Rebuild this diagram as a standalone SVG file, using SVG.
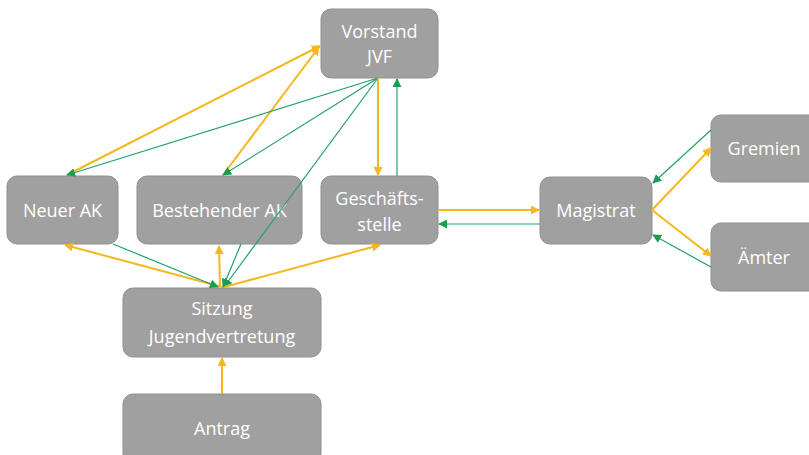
<svg xmlns="http://www.w3.org/2000/svg" width="809" height="455" viewBox="0 0 809 455">
<style>
.box{fill:#a0a0a0;stroke:#909090;stroke-width:1}
.lbl{font-family:"Open Sans","Noto Sans",sans-serif;font-size:18px;fill:#ffffff;text-anchor:middle}
.y{stroke:#f4b71e;stroke-width:2;fill:none}
.g{stroke:#22a06a;stroke-width:1.2;fill:none}
</style>
<defs>
<marker id="ay" viewBox="0 0 10 10" refX="9" refY="5" markerWidth="9" markerHeight="9" markerUnits="userSpaceOnUse" orient="auto"><path d="M0,0 L10,5 L0,10 z" fill="#f4b71e"/></marker>
<marker id="ag" viewBox="0 0 10 10" refX="9" refY="5" markerWidth="9" markerHeight="9" markerUnits="userSpaceOnUse" orient="auto"><path d="M0,0 L10,5 L0,10 z" fill="#14a050"/></marker>
</defs>
<rect width="809" height="455" fill="#ffffff"/>
<g id="vorstand"><rect class="box" x="321" y="9" width="117" height="69" rx="10"/><text class="lbl" x="379.5" y="38">Vorstand</text><text class="lbl" x="379.5" y="63">JVF</text></g>
<g id="neuer-ak"><rect class="box" x="7" y="176" width="111" height="68" rx="10"/><text class="lbl" x="62.5" y="217">Neuer AK</text></g>
<g id="bestehender-ak"><rect class="box" x="137" y="176" width="165" height="68" rx="10"/><text class="lbl" x="219.5" y="217">Bestehender AK</text></g>
<g id="geschaeftsstelle"><rect class="box" x="321" y="176" width="117" height="68" rx="10"/><text class="lbl" x="379.5" y="205">Geschäfts-</text><text class="lbl" x="379.5" y="231">stelle</text></g>
<g id="magistrat"><rect class="box" x="540" y="177" width="112" height="67" rx="10"/><text class="lbl" x="596" y="217">Magistrat</text></g>
<g id="gremien"><rect class="box" x="711" y="115" width="110" height="67" rx="10"/><text class="lbl" x="764" y="155">Gremien</text></g>
<g id="aemter"><rect class="box" x="711" y="223" width="110" height="68" rx="10"/><text class="lbl" x="764" y="264">Ämter</text></g>
<g id="sitzung"><rect class="box" x="123" y="288" width="198" height="69" rx="10"/><text class="lbl" x="222" y="315">Sitzung</text><text class="lbl" x="222" y="343">Jugendvertretung</text></g>
<g id="antrag"><rect class="box" x="123" y="394" width="198" height="70" rx="10"/><text class="lbl" x="222" y="435">Antrag</text></g>
<g id="connectors">
<line class="y" x1="67" y1="175" x2="320" y2="46" marker-end="url(#ay)"/>
<line class="y" x1="223" y1="175" x2="319" y2="47" marker-end="url(#ay)"/>
<line class="g" x1="378" y1="78" x2="67" y2="175" marker-end="url(#ag)"/>
<line class="g" x1="378" y1="78" x2="223" y2="175" marker-end="url(#ag)"/>
<line class="g" x1="378" y1="78" x2="224" y2="287" marker-end="url(#ag)"/>
<line class="y" x1="378" y1="78" x2="378" y2="175" marker-end="url(#ay)"/>
<line class="g" x1="397" y1="176" x2="397" y2="79" marker-end="url(#ag)"/>
<line class="y" x1="438" y1="210" x2="539" y2="210" marker-end="url(#ay)"/>
<line class="g" x1="540" y1="224" x2="439" y2="224" marker-end="url(#ag)"/>
<line class="y" x1="652" y1="210" x2="711" y2="148" marker-end="url(#ay)"/>
<line class="y" x1="652" y1="210" x2="711" y2="256" marker-end="url(#ay)"/>
<line class="g" x1="711" y1="130" x2="653" y2="183" marker-end="url(#ag)"/>
<line class="g" x1="711" y1="267" x2="653" y2="235" marker-end="url(#ag)"/>
<line class="y" x1="222" y1="287" x2="65" y2="245" marker-end="url(#ay)"/>
<line class="y" x1="220" y1="287" x2="219" y2="246" marker-end="url(#ay)"/>
<line class="y" x1="224" y1="287" x2="380" y2="245" marker-end="url(#ay)"/>
<line class="g" x1="113" y1="244" x2="218" y2="287" marker-end="url(#ag)"/>
<line class="g" x1="241" y1="244" x2="223" y2="287" marker-end="url(#ag)"/>
<line class="y" x1="222" y1="394" x2="222" y2="358" marker-end="url(#ay)"/>
</g>
</svg>
